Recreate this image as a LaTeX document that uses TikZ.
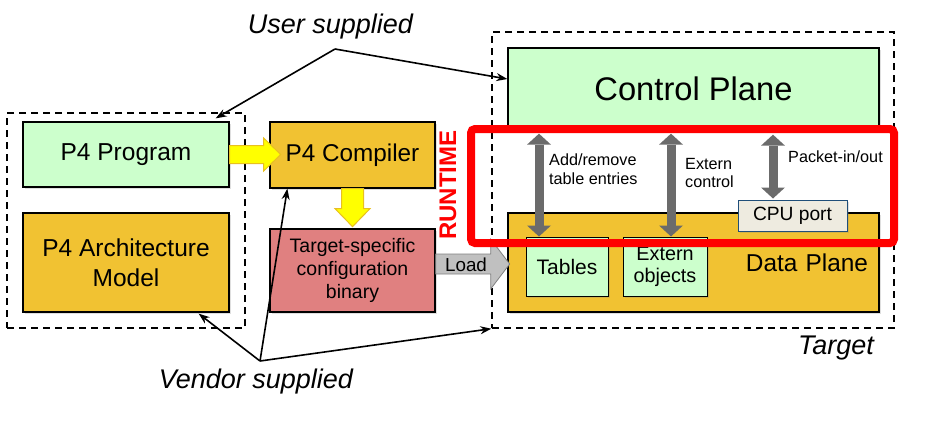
\documentclass[tikz,border=0pt]{standalone}
\usepackage{fontspec}
\setmainfont{Liberation Sans}
\usetikzlibrary{arrows.meta,calc,shadows}
\definecolor{lgreen}{HTML}{CCFFCC}
\definecolor{gold}{HTML}{F1C232}
\definecolor{pinkred}{HTML}{E08080}
\definecolor{cpufill}{HTML}{EEEBE0}
\definecolor{cpuborder}{HTML}{1F4E79}
\definecolor{agray}{HTML}{6B6B6B}
\definecolor{loadgray}{HTML}{C0C0C0}
\definecolor{yel}{HTML}{FFFF00}
\definecolor{yelborder}{HTML}{E8C020}
\newcommand{\myfs}[2]{\fontsize{#1}{#2}\selectfont}
\tikzset{
  box/.style={draw=black, line width=1.3pt, inner sep=0pt, align=center,
    drop shadow={shadow xshift=2pt, shadow yshift=-2pt, opacity=0.25}},
  grp/.style={draw=black, dash pattern=on 7pt off 5pt, line width=1.4pt, inner sep=0pt},
  ptr/.style={draw=black, line width=1.6pt, -{Stealth[length=11pt,width=8pt]}},
  garrow/.style={draw=agray, line width=9pt,
    {Triangle[length=11pt,width=24pt,line width=0pt]}-{Triangle[length=11pt,width=24pt,line width=0pt]}},
  yarrow/.style={fill=yel, draw=yelborder, line width=1pt},
  lab/.style={anchor=west, align=left, inner sep=0pt, font=\myfs{16.2}{18.5}},
  ital/.style={font=\itshape\myfs{27}{31}}
}
\begin{document}
\begin{tikzpicture}[x=1pt,y=-1pt]
\useasboundingbox (0,0) rectangle (934,424);
% groups
\node[grp, minimum width=238pt, minimum height=215pt] (dev) at (126,220.5) {};
\node[grp, minimum width=402pt, minimum height=296pt] (tgt) at (693,180) {};
% boxes
\node[box, fill=lgreen, minimum width=206pt, minimum height=65pt, font=\myfs{24.5}{30}] (prog) at (126,154.5) {P4 Program};
\node[box, fill=gold, minimum width=206pt, minimum height=99pt, font=\myfs{24.5}{30}] (arch) at (126,262.5) {P4 Architecture\\Model};
\node[box, fill=gold, minimum width=165pt, minimum height=66pt, font=\myfs{24.3}{30}] (comp) at (352.5,155) {P4 Compiler};
\node[box, fill=pinkred, minimum width=165pt, minimum height=83pt, font=\myfs{19.5}{23}] (tsb) at (352.5,270.5) {Target-specific\\configuration\\binary};
\node[box, fill=lgreen, minimum width=371pt, minimum height=82pt, font=\myfs{32.7}{38}] (ctrl) at (693.5,89) {Control Plane};
\node[box, fill=gold, minimum width=371pt, minimum height=99pt, text width=349pt, inner xsep=11pt, align=right, font=\myfs{24.4}{28}] (data) at (693.5,262.5) {Data Plane};
\node[box, fill=lgreen, line width=1pt, minimum width=82pt, minimum height=59pt, font=\myfs{21}{24}] (tables) at (567,266.5) {Tables};
\node[box, fill=lgreen, line width=1pt, minimum width=84pt, minimum height=59pt, font=\myfs{19.8}{21.5}] (ext) at (665,266.5) {Extern\\objects};
\node[box, fill=cpufill, draw=cpuborder, line width=1pt, minimum width=109pt, minimum height=31pt, font=\myfs{19.2}{22}] (cpu) at (792.5,215.5) {CPU port};
% block arrows
\filldraw[yarrow] (prog.east) ++(0,-9) -- ++(34,0) -- ++(0,-7.5) -- ++(17,16.5) -- ++(-17,16.5) -- ++(0,-7.5) -- ++(-34,0) -- cycle;
\filldraw[yarrow] (comp.south) ++(-11,0) -- ++(0,20) -- ++(-6.5,0) -- ++(17.5,18) -- ++(17.5,-18) -- ++(-6.5,0) -- ++(0,-20) -- cycle;
\filldraw[fill=loadgray, draw=gray, line width=0.8pt] (tsb.east) ++(0,-16.5) -- ++(55,0) -- ++(0,-15) -- ++(19,25) -- ++(-19,25) -- ++(0,-15) -- ++(-55,0) -- cycle;
\node[font=\myfs{18.8}{22}] (load) at (466,265) {Load};
% red runtime frame
\node[draw=red, line width=8pt, rounded corners=4pt, minimum width=423pt, minimum height=114pt, inner sep=0pt] (rt) at (682.5,186) {};
\node[rotate=90, text=red, font=\bfseries\myfs{24}{28}] (rtlabel) at (448,185) {RUNTIME};
% gray double arrows
\draw[garrow, shorten <=3pt] ([xshift=-154.5pt]ctrl.south) -- ([xshift=-28pt]tables.north);
\draw[garrow, shorten <=3pt] ([xshift=-22.5pt]ctrl.south) -- ([xshift=6pt]ext.north);
\draw[garrow, shorten <=4pt, shorten >=1pt] ([xshift=79.5pt]ctrl.south) -- ([xshift=-19.5pt]cpu.north);
\node[lab] (lab1) at (549,169) {Add/remove\\table entries};
\node[lab] (lab2) at (685,173) {Extern\\control};
\node[lab] (lab3) at (788,157) {Packet-in/out};
% pointers
\node[ital] (user) at (330.5,27) {User supplied};
\coordinate (uj) at (335,49);
\draw[ptr] (uj) -- ([xshift=-14pt,yshift=3pt]prog.north east);
\draw[ptr] (uj) -- ([yshift=10pt]ctrl.west);
\node[ital] (vendor) at (256,382) {Vendor supplied};
\coordinate (vj) at (260,361);
\draw[ptr] (vj) -- ([xshift=-31pt,yshift=-1pt]arch.south east);
\draw[ptr] (vj) -- ([xshift=18pt]comp.south west);
\draw[ptr] (vj) -- (tgt.south west);
\node[ital] (tgtlabel) at (836,348) {Target};
\end{tikzpicture}
\end{document}
